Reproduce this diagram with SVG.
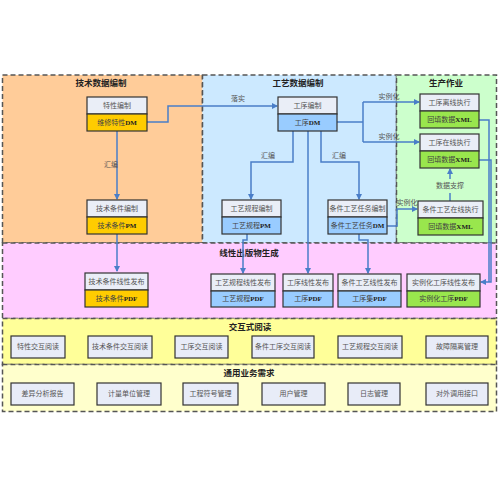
<svg xmlns="http://www.w3.org/2000/svg" width="500" height="500" viewBox="0 0 500 500">
<style>
.region{stroke:#555;stroke-width:1.5;stroke-dasharray:5,3}
.rt{font-family:"Noto Sans CJK SC",sans-serif;font-size:8.5px;font-weight:bold;fill:#222;text-anchor:middle;dominant-baseline:central}
.hd{fill:#eaeef7;stroke:#333;stroke-width:1.2}
.yl{fill:#ffcc00;stroke:#333;stroke-width:1.2}
.bl{fill:#99ccff;stroke:#333;stroke-width:1.2}
.gr{fill:#99e64d;stroke:#333;stroke-width:1.2}
.bx{fill:#e8ecf8;stroke:#333;stroke-width:1.2}
.t{font-family:"Liberation Serif","Noto Sans CJK SC",serif;font-size:7px;fill:#555;text-anchor:middle;dominant-baseline:central}
.tb{font-family:"Liberation Serif","Noto Sans CJK SC",serif;font-size:7px;fill:#444;text-anchor:middle;dominant-baseline:central}
.tb tspan{font-weight:bold;fill:#222}
.c{fill:none;stroke:#4a7ec8;stroke-width:1.5}
.lb{font-family:"Liberation Serif","Noto Sans CJK SC",serif;font-size:7px;fill:#555;text-anchor:middle;dominant-baseline:central}
</style>
<defs>
<marker id="ar" markerWidth="6" markerHeight="6" refX="5" refY="3" orient="auto" markerUnits="userSpaceOnUse">
<path d="M0,0 L6,3 L0,6 Z" fill="#4a7ec8"/>
</marker>
</defs>
<rect width="500" height="500" fill="#fff"/>
<g id="regions">
<rect class="region" x="2.5" y="75" width="200" height="168" fill="#ffcc99"/>
<rect class="region" x="202.5" y="75" width="194" height="168" fill="#cce9ff"/>
<rect class="region" x="396.5" y="75" width="100" height="168" fill="#ccffcc"/>
<rect class="region" x="2.5" y="243" width="494" height="75.5" fill="#ffccff"/>
<rect class="region" x="2.5" y="318.5" width="494" height="46" fill="#ffff99"/>
<rect class="region" x="2.5" y="364.5" width="494" height="47" fill="#ffffcc"/>
<text class="rt" x="101" y="82">技术数据编制</text>
<text class="rt" x="298" y="82">工艺数据编制</text>
<text class="rt" x="446" y="82">生产作业</text>
<text class="rt" x="249" y="252">线性出版物生成</text>
<text class="rt" x="250" y="326">交互式阅读</text>
<text class="rt" x="249" y="372">通用业务需求</text>
</g>
<g id="connectors">
<path class="c" d="M147,122 H168 V106 H277" marker-end="url(#ar)"/>
<path class="c" d="M117,131 V199" marker-end="url(#ar)"/>
<path class="c" d="M117,234 V271" marker-end="url(#ar)"/>
<path class="c" d="M293,131 V162 H251 V199" marker-end="url(#ar)"/>
<path class="c" d="M308,131 V273" marker-end="url(#ar)"/>
<path class="c" d="M321,131 V162 H359 V199" marker-end="url(#ar)"/>
<path class="c" d="M337,122 H363"/>
<path class="c" d="M363,102 V142"/>
<path class="c" d="M363,102 H419" marker-end="url(#ar)"/>
<path class="c" d="M363,142 H419" marker-end="url(#ar)"/>
<path class="c" d="M387,226 H397 V209 H417" marker-end="url(#ar)"/>
<path class="c" d="M450,201 V193"/>
<path class="c" d="M450,179 V169" marker-end="url(#ar)"/>
<path class="c" d="M479,120 H489 V282"/>
<path class="c" d="M479,160 H491 V282 H481" marker-end="url(#ar)"/>
<path class="c" d="M247,234 V240 H243 V273" marker-end="url(#ar)"/>
<path class="c" d="M359,234 V240 H368 V273" marker-end="url(#ar)"/>
<text class="lb" x="238" y="99">落实</text>
<text class="lb" x="111" y="165">汇编</text>
<text class="lb" x="268" y="156">汇编</text>
<text class="lb" x="339" y="156">汇编</text>
<text class="lb" x="389" y="97">实例化</text>
<text class="lb" x="389" y="137">实例化</text>
<text class="lb" x="407" y="203">实例化</text>
<text class="lb" x="450" y="186">数据支撑</text>
</g>
<g id="n-texing">
<rect class="hd" x="87" y="97" width="60" height="17"/>
<rect class="yl" x="87" y="114" width="60" height="17"/>
<text class="t" x="117" y="105.5">特性编制</text>
<text class="tb" x="117" y="122.5">维修特性<tspan>DM</tspan></text>
</g>
<g id="n-jstj">
<rect class="hd" x="87" y="200" width="60" height="17"/>
<rect class="yl" x="87" y="217" width="60" height="17"/>
<text class="t" x="117" y="208.5">技术条件编制</text>
<text class="tb" x="117" y="225.5">技术条件<tspan>PM</tspan></text>
</g>
<g id="n-gongxu">
<rect class="hd" x="278" y="97" width="59" height="17"/>
<rect class="bl" x="278" y="114" width="59" height="17"/>
<text class="t" x="307.5" y="105.5">工序编制</text>
<text class="tb" x="307.5" y="122.5">工序<tspan>DM</tspan></text>
</g>
<g id="n-gygc">
<rect class="hd" x="222" y="200" width="59" height="17"/>
<rect class="bl" x="222" y="217" width="59" height="17"/>
<text class="t" x="251.5" y="208.5">工艺规程编制</text>
<text class="tb" x="251.5" y="225.5">工艺规程<tspan>PM</tspan></text>
</g>
<g id="n-tjgyrw">
<rect class="hd" x="328" y="200" width="59" height="17"/>
<rect class="bl" x="328" y="217" width="59" height="17"/>
<text class="t" x="357.5" y="208.5">条件工艺任务编制</text>
<text class="tb" x="357.5" y="225.5">条件工艺任务<tspan>DM</tspan></text>
</g>
<g id="n-lixian">
<rect class="hd" x="420" y="94" width="59" height="17"/>
<rect class="gr" x="420" y="111" width="59" height="17"/>
<text class="t" x="449.5" y="102.5">工序离线执行</text>
<text class="tb" x="449.5" y="119.5">回填数据<tspan>XML</tspan></text>
</g>
<g id="n-zaixian">
<rect class="hd" x="420" y="134" width="59" height="17"/>
<rect class="gr" x="420" y="151" width="59" height="17"/>
<text class="t" x="449.5" y="142.5">工序在线执行</text>
<text class="tb" x="449.5" y="159.5">回填数据<tspan>XML</tspan></text>
</g>
<g id="n-tjzaixian">
<rect class="hd" x="418" y="201" width="65" height="17"/>
<rect class="gr" x="418" y="218" width="65" height="17"/>
<text class="t" x="450.5" y="209.5">条件工艺在线执行</text>
<text class="tb" x="450.5" y="226.5">回填数据<tspan>XML</tspan></text>
</g>
<g id="n-p1">
<rect class="hd" x="85" y="273" width="63" height="17"/>
<rect class="yl" x="85" y="290" width="63" height="17"/>
<text class="t" x="116.5" y="281.5">技术条件线性发布</text>
<text class="tb" x="116.5" y="298.5">技术条件<tspan>PDF</tspan></text>
</g>
<g id="n-p2">
<rect class="hd" x="211" y="274" width="64" height="17"/>
<rect class="bl" x="211" y="291" width="64" height="16"/>
<text class="t" x="243" y="282.5">工艺规程线性发布</text>
<text class="tb" x="243" y="299">工艺规程<tspan>PDF</tspan></text>
</g>
<g id="n-p3">
<rect class="hd" x="283" y="274" width="50" height="17"/>
<rect class="bl" x="283" y="291" width="50" height="16"/>
<text class="t" x="308" y="282.5">工序线性发布</text>
<text class="tb" x="308" y="299">工序<tspan>PDF</tspan></text>
</g>
<g id="n-p4">
<rect class="hd" x="338" y="274" width="63" height="17"/>
<rect class="bl" x="338" y="291" width="63" height="16"/>
<text class="t" x="369.5" y="282.5">条件工艺线性发布</text>
<text class="tb" x="369.5" y="299">工序集<tspan>PDF</tspan></text>
</g>
<g id="n-p5">
<rect class="hd" x="407" y="274" width="73" height="17"/>
<rect class="gr" x="407" y="291" width="73" height="16"/>
<text class="t" x="443.5" y="282.5">实例化工序线性发布</text>
<text class="tb" x="443.5" y="299">实例化工序<tspan>PDF</tspan></text>
</g>
<g id="n-i1"><rect class="bx" x="11" y="336" width="54" height="22"/><text class="t" x="38" y="347">特性交互阅读</text></g>
<g id="n-i2"><rect class="bx" x="88" y="336" width="64" height="22"/><text class="t" x="120" y="347">技术条件交互阅读</text></g>
<g id="n-i3"><rect class="bx" x="175" y="336" width="53" height="22"/><text class="t" x="201.5" y="347">工序交互阅读</text></g>
<g id="n-i4"><rect class="bx" x="252" y="336" width="62" height="22"/><text class="t" x="283" y="347">条件工序交互阅读</text></g>
<g id="n-i5"><rect class="bx" x="338" y="336" width="64" height="22"/><text class="t" x="370" y="347">工艺规程交互阅读</text></g>
<g id="n-i6"><rect class="bx" x="426" y="336" width="62" height="22"/><text class="t" x="457" y="347">故障隔离管理</text></g>
<g id="n-u1"><rect class="bx" x="11" y="383" width="63" height="22"/><text class="t" x="42.5" y="394">差异分析报告</text></g>
<g id="n-u2"><rect class="bx" x="97" y="383" width="64" height="22"/><text class="t" x="129" y="394">计量单位管理</text></g>
<g id="n-u3"><rect class="bx" x="183" y="383" width="55" height="22"/><text class="t" x="210.5" y="394">工程符号管理</text></g>
<g id="n-u4"><rect class="bx" x="262" y="383" width="63" height="22"/><text class="t" x="293.5" y="394">用户管理</text></g>
<g id="n-u5"><rect class="bx" x="348" y="383" width="52" height="22"/><text class="t" x="374" y="394">日志管理</text></g>
<g id="n-u6"><rect class="bx" x="426" y="383" width="62" height="22"/><text class="t" x="457" y="394">对外调用接口</text></g>
</svg>
